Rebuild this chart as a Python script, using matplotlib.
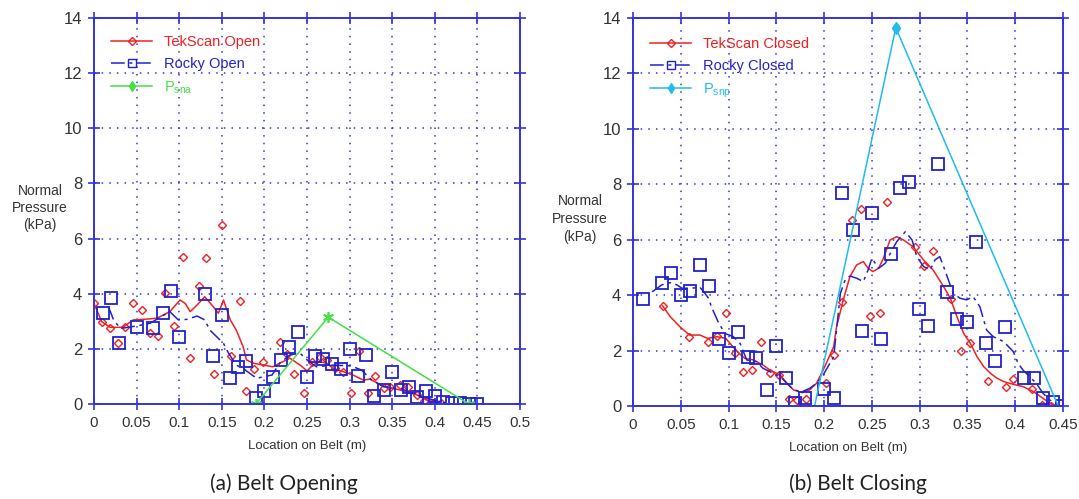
import numpy as np
import matplotlib.pyplot as plt
from matplotlib.lines import Line2D

# ---- (a) belt opening ----
tek_open_x = [0.0, 0.009, 0.019, 0.028, 0.036, 0.046, 0.056, 0.066, 0.075, 0.083, 0.094, 0.104,
              0.113, 0.123, 0.132, 0.141, 0.15, 0.161, 0.171, 0.178, 0.188, 0.198, 0.218, 0.227,
              0.235, 0.246, 0.256, 0.265, 0.273, 0.283, 0.292, 0.302, 0.311, 0.322, 0.33, 0.34,
              0.348, 0.359, 0.369, 0.379, 0.387, 0.398, 0.407]
tek_open_y = [3.66, 2.98, 2.75, 2.2, 2.8, 3.66, 3.4, 2.58, 2.45, 4.04, 2.83, 5.32,
              1.67, 4.29, 5.31, 1.09, 6.5, 1.75, 3.75, 0.48, 1.27, 1.54, 2.25, 1.8,
              1.09, 0.4, 1.54, 1.72, 1.6, 1.29, 1.17, 0.39, 1.92, 0.39, 1.03, 0.57,
              0.63, 0.69, 0.63, 0.33, 0.12, 0.05, 0.02]

rocky_open_x = [0.01, 0.02, 0.029, 0.05, 0.069, 0.081, 0.09, 0.1, 0.13, 0.14, 0.15, 0.16,
                0.169, 0.179, 0.19, 0.2, 0.21, 0.219, 0.229, 0.24, 0.25, 0.259, 0.269, 0.279,
                0.29, 0.3, 0.31, 0.319, 0.329, 0.34, 0.35, 0.36, 0.37, 0.379, 0.39, 0.4,
                0.41, 0.42, 0.43, 0.44, 0.45]
rocky_open_y = [3.29, 3.83, 2.22, 2.8, 2.77, 3.31, 4.11, 2.42, 3.98, 1.74, 3.23, 0.93,
                1.35, 1.56, 0.23, 0.48, 0.97, 1.6, 2.08, 2.62, 0.97, 1.74, 1.65, 1.44,
                1.27, 1.98, 1.02, 1.78, 0.29, 0.51, 1.15, 0.51, 0.63, 0.27, 0.47, 0.3,
                0.09, 0.02, 0.02, 0.0, 0.0]

tek_open_fit_x = [0.0, 0.009, 0.019, 0.034, 0.046, 0.058, 0.074, 0.089, 0.101, 0.107, 0.113,
                  0.121, 0.13, 0.14, 0.146, 0.152, 0.16, 0.167, 0.175, 0.179, 0.187, 0.199,
                  0.21, 0.218, 0.23, 0.242, 0.25, 0.257, 0.265, 0.273, 0.281, 0.293, 0.304,
                  0.316, 0.324, 0.34, 0.359, 0.379, 0.39, 0.406]
tek_open_fit_y = [3.65, 2.99, 2.78, 2.78, 3.05, 3.07, 3.11, 3.35, 3.77, 3.65, 3.35,
                  3.59, 3.89, 3.53, 3.29, 3.77, 3.05, 2.68, 2.08, 1.6, 1.48, 1.41,
                  1.35, 1.48, 1.66, 1.41, 1.2, 1.41, 1.53, 1.48, 1.29, 1.17, 1.05,
                  0.87, 0.9, 0.63, 0.51, 0.33, 0.15, 0.02]

rocky_open_fit_x = [0.017, 0.023, 0.031, 0.05, 0.066, 0.079, 0.089, 0.099, 0.109, 0.121, 0.13,
                    0.136, 0.144, 0.152, 0.158, 0.167, 0.175, 0.183, 0.191, 0.199, 0.209,
                    0.218, 0.23, 0.242, 0.25, 0.261, 0.281, 0.302, 0.314, 0.326, 0.34,
                    0.359, 0.379, 0.398, 0.414]
rocky_open_fit_y = [3.53, 3.05, 2.74, 2.83, 2.93, 3.17, 3.35, 3.05, 3.07, 3.19, 3.05,
                    2.68, 2.44, 2.2, 1.84, 1.41, 1.29, 1.11, 0.93, 0.99, 1.05,
                    1.48, 1.78, 1.84, 1.6, 1.35, 1.41, 1.38, 1.23, 0.87, 0.63,
                    0.57, 0.33, 0.15, 0.02]

psna_x = [0.19, 0.275, 0.44]
psna_y = [0.0, 3.15, 0.0]

# ---- (b) belt closing ----
tek_closed_x = [0.031, 0.059, 0.078, 0.088, 0.097, 0.107, 0.115, 0.125, 0.134, 0.143, 0.153,
                0.163, 0.172, 0.181, 0.202, 0.21, 0.219, 0.229, 0.239, 0.248, 0.258, 0.266,
                0.295, 0.305, 0.314, 0.333, 0.343, 0.353, 0.371, 0.39, 0.398, 0.418, 0.428,
                0.437]
tek_closed_y = [3.61, 2.48, 2.32, 2.53, 3.34, 1.9, 1.22, 1.3, 2.32, 1.18, 1.12,
                0.24, 0.22, 0.24, 0.84, 1.84, 3.74, 6.71, 7.1, 3.26, 3.34, 7.35,
                5.73, 5.05, 5.6, 3.85, 1.98, 2.26, 0.91, 0.67, 0.96, 0.61, 0.04,
                0.0]

rocky_closed_x = [0.01, 0.03, 0.04, 0.05, 0.06, 0.07, 0.08, 0.09, 0.1, 0.11, 0.12, 0.129,
                  0.14, 0.15, 0.16, 0.17, 0.18, 0.2, 0.21, 0.219, 0.23, 0.24, 0.25, 0.26,
                  0.27, 0.279, 0.289, 0.299, 0.309, 0.319, 0.329, 0.339, 0.349, 0.359, 0.369,
                  0.379, 0.389, 0.409, 0.42, 0.429, 0.439, 0.449]
rocky_closed_y = [3.86, 4.45, 4.79, 4.0, 4.16, 5.09, 4.34, 2.41, 1.92, 2.68, 1.78, 1.72,
                  0.58, 2.17, 1.0, 0.1, 0.28, 0.6, 0.28, 7.7, 6.35, 2.71, 6.98, 2.41,
                  5.47, 7.86, 8.09, 3.49, 2.9, 8.73, 4.1, 3.14, 3.04, 5.93, 2.26,
                  1.64, 2.86, 1.0, 1.0, 0.28, 0.13, 0.0]

tek_closed_fit_x = [0.031, 0.039, 0.049, 0.059, 0.07, 0.078, 0.088, 0.097, 0.103, 0.109, 0.117,
                    0.126, 0.136, 0.143, 0.154, 0.161, 0.168, 0.177, 0.185, 0.192, 0.199,
                    0.21, 0.213, 0.22, 0.227, 0.234, 0.241, 0.246, 0.251, 0.257, 0.262,
                    0.269, 0.276, 0.283, 0.293, 0.304, 0.314, 0.325, 0.332, 0.339, 0.346,
                    0.353, 0.36, 0.367, 0.374, 0.381, 0.388, 0.398, 0.408, 0.419, 0.429,
                    0.436, 0.443]
tek_closed_fit_y = [3.61, 3.22, 2.86, 2.56, 2.56, 2.44, 2.5, 2.44, 2.2, 1.96, 1.72,
                    1.66, 1.48, 1.3, 1.12, 0.82, 0.58, 0.48, 0.58, 0.82, 1.3,
                    2.14, 2.86, 3.83, 4.67, 5.09, 5.21, 4.97, 4.85, 4.97, 5.33,
                    5.99, 6.11, 5.99, 5.75, 5.27, 4.91, 4.31, 3.89, 3.22, 2.62,
                    2.26, 1.78, 1.42, 1.18, 1.0, 0.88, 0.78, 0.7, 0.52, 0.28,
                    0.1, 0.0]

rocky_closed_fit_x = [0.02, 0.03, 0.039, 0.046, 0.051, 0.061, 0.07, 0.074, 0.079, 0.082, 0.089,
                      0.096, 0.105, 0.112, 0.119, 0.129, 0.136, 0.143, 0.154, 0.161, 0.168,
                      0.177, 0.185, 0.192, 0.199, 0.21, 0.217, 0.222, 0.227, 0.234, 0.241,
                      0.246, 0.25, 0.257, 0.264, 0.271, 0.276, 0.285, 0.292, 0.297, 0.304,
                      0.311, 0.316, 0.321, 0.325, 0.33, 0.335, 0.342, 0.349, 0.356, 0.363,
                      0.367, 0.37, 0.377, 0.388, 0.398, 0.403, 0.408, 0.415, 0.422, 0.429,
                      0.436, 0.447]
rocky_closed_fit_y = [4.12, 4.37, 4.45, 4.37, 4.25, 4.25, 4.28, 4.12, 3.89, 3.58, 3.04,
                      2.62, 2.5, 2.26, 1.66, 1.6, 1.36, 1.24, 1.06, 0.82, 0.58,
                      0.52, 0.64, 0.82, 1.12, 1.78, 4.07, 4.55, 4.69, 4.61, 4.49,
                      4.91, 5.33, 4.97, 5.15, 5.63, 5.93, 6.29, 5.99, 5.39, 5.03,
                      4.91, 5.27, 5.39, 5.03, 4.55, 4.07, 3.89, 3.83, 3.94, 3.58,
                      3.1, 2.74, 2.5, 2.32, 1.96, 1.54, 1.3, 1.06, 0.82, 0.46,
                      0.22, 0.0]

psnp_x = [0.19, 0.275, 0.445]
psnp_y = [0.0, 13.65, 0.0]

RED = '#f02020'
BLUE = '#2222cc'
GREEN = '#44e044'
CYAN = '#22bbee'
AXBLUE = '#3333dd'
TICKFONT = 'Liberation Sans'

fig = plt.figure(figsize=(10.79, 4.99), dpi=100)
ax0 = fig.add_axes([0.0871, 0.1904, 0.3948, 0.7735])
ax1 = fig.add_axes([0.5867, 0.1864, 0.3985, 0.7775])

rocky_dash = (0, (9, 3, 2, 3))


def style(ax, xmax, xticks):
    ax.set_xlim(0, xmax)
    ax.set_ylim(0, 14)
    ax.set_xticks(xticks)
    ax.set_yticks(np.arange(0, 15, 2))
    ax.set_xticklabels(['%g' % t for t in xticks], family=TICKFONT, fontsize=11, color='#333333')
    ax.set_yticklabels(['%d' % t for t in np.arange(0, 15, 2)], family=TICKFONT, fontsize=12,
                       color='#333333')
    ax.tick_params(direction='inout', length=9, width=1.2, color=AXBLUE,
                   top=True, right=True, pad=4)
    for s in ax.spines.values():
        s.set_color(AXBLUE)
        s.set_linewidth(1.4)
    ax.grid(True, color=AXBLUE, linestyle=(0, (1, 4)), linewidth=1.1)
    ax.set_xlabel('Location on Belt (m)', family=TICKFONT, fontsize=9.5, color='#333333', labelpad=7)


# (a)
ax0.plot(tek_open_fit_x, tek_open_fit_y, color=RED, lw=1.1)
ax0.plot(tek_open_x, tek_open_y, 'D', ms=4.5, mfc='none', mec=RED, mew=1.0)
ax0.plot(rocky_open_fit_x, rocky_open_fit_y, color=BLUE, lw=1.1, linestyle=rocky_dash)
ax0.plot(rocky_open_x, rocky_open_y, 's', ms=8, mfc='none', mec=BLUE, mew=1.3)
ax0.plot(psna_x, psna_y, color=GREEN, lw=1.1)
ax0.plot(psna_x, psna_y, linestyle='none', marker=(6, 2, 0), ms=8, color=GREEN, mew=1.2)
style(ax0, 0.5, np.arange(0, 0.51, 0.05).round(2))

# (b)
ax1.plot(tek_closed_fit_x, tek_closed_fit_y, color=RED, lw=1.1)
ax1.plot(tek_closed_x, tek_closed_y, 'D', ms=4.5, mfc='none', mec=RED, mew=1.0)
ax1.plot(rocky_closed_fit_x, rocky_closed_fit_y, color=BLUE, lw=1.1, linestyle=rocky_dash)
ax1.plot(rocky_closed_x, rocky_closed_y, 's', ms=8, mfc='none', mec=BLUE, mew=1.3)
ax1.plot(psnp_x, psnp_y, color=CYAN, lw=1.1)
ax1.plot(psnp_x[1:2], psnp_y[1:2], 'd', ms=6, color=CYAN)
style(ax1, 0.45, np.arange(0, 0.451, 0.05).round(2))

# legends
for ax, names, pcol, psub, anchor in [
        (ax0, ['TekScan Open', 'Rocky Open'], GREEN, 'sna', (0.01, 0.99)),
        (ax1, ['TekScan Closed', 'Rocky Closed'], CYAN, 'snp', (0.01, 0.985))]:
    handles = [
        Line2D([], [], color=RED, lw=1.1, marker='D', ms=4, mfc='none', mec=RED),
        Line2D([], [], color=BLUE, lw=1.1, linestyle=rocky_dash, marker='s', ms=6, mfc='none', mec=BLUE),
        Line2D([], [], color=pcol, lw=1.1, marker='d', ms=5, mfc=pcol, mec=pcol),
    ]
    labels = names + ['P$_{\\mathregular{%s}}$' % psub]
    leg = ax.legend(handles, labels, loc='upper left', bbox_to_anchor=anchor, frameon=False,
                    handlelength=2.8, labelspacing=0.55,
                    labelcolor=[RED, BLUE, pcol], prop={'family': 'Liberation Sans', 'size': 10.5})

# y labels
fig.text(40 / 1079, 1 - 208 / 499, 'Normal\nPressure\n(kPa)', ha='center', va='center',
         family='Liberation Sans', fontsize=10, color='#333333', linespacing=1.25)
fig.text(580 / 1079, 1 - 219 / 499, 'Normal\nPressure\n(kPa)', ha='center', va='center',
         family='Liberation Sans', fontsize=10, color='#333333', linespacing=1.4)

# captions
fig.text(284 / 1079, 1 - 484 / 499, '(a) Belt Opening', ha='center', va='center',
         family='Lato', fontsize=15, color='#222222')
fig.text(858 / 1079, 1 - 484 / 499, '(b) Belt Closing', ha='center', va='center',
         family='Lato', fontsize=15, color='#222222')

fig.savefig('out.png', dpi=100)
